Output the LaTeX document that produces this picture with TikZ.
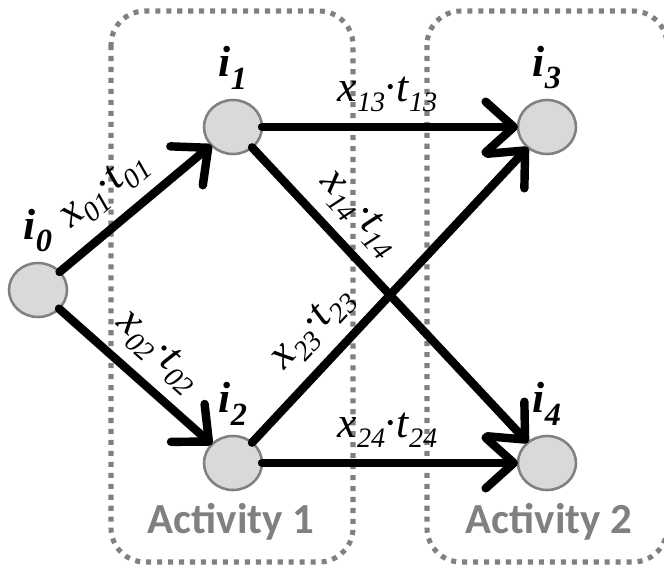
\documentclass[tikz,border=0pt]{standalone}
\usepackage{fontspec}
\setmainfont{Liberation Serif}
\newfontfamily\actfont{Carlito}
\usetikzlibrary{arrows.meta,positioning,shapes.geometric}
\definecolor{actGray}{HTML}{808080}
\definecolor{stateFill}{HTML}{D9D9D9}

% flow label x_{ij}.t_{ij} and state label i_k
\newcommand{\lowsub}[2]{\raisebox{-7pt}{\fontsize{#1}{#1}\selectfont\itshape #2}}
\newcommand{\xt}[1]{\textit{x}\lowsub{20}{#1}\kern-1.5pt·\kern-1pt\textit{t}\lowsub{20}{#1}}
\newcommand{\ik}[1]{i\raisebox{-9pt}{\fontsize{23}{23}\selectfont #1}}

\begin{document}
\begin{tikzpicture}[x=0.025cm,y=-0.025cm,
  state/.style={ellipse,draw=actGray,line width=1.8pt,fill=stateFill,
                minimum width=1.45cm,minimum height=1.35cm,inner sep=0pt,outer sep=0pt},
  statename/.style={font=\fontsize{31}{31}\selectfont\bfseries\itshape,inner sep=0pt},
  flow/.style={line width=6pt,line cap=round,
               -{Straight Barb[length=20pt,width=36pt,line cap=round,line join=round]}},
  elabel/.style={font=\fontsize{31}{31}\selectfont,sloped,above,inner sep=1pt,outer sep=10pt},
  actbox/.style={draw=actGray,line width=3.6pt,dash pattern=on 3.6pt off 4.2pt,
                 rounded corners=0.85cm},
  acttext/.style={font=\fontsize{30.5}{30.5}\selectfont\actfont\bfseries,text=actGray,anchor=base}]
\useasboundingbox (0,0) rectangle (664,568);

% activity boxes
\draw[actbox] (111,11) rectangle (353,562);
\draw[actbox] (427,11) rectangle (667,562);
\node[acttext] (act1) at (231,533) {Activity 1};
\node[acttext] (act2) at (549,533) {Activity 2};

% cut-off colon at the left edge
\node[font=\fontsize{36}{36}\selectfont\bfseries,anchor=base west,inner sep=0pt] (colon) at (-13,73) {:};

% states
\node[state] (i0) at (38,290) {};
\node[state] (i1) at (233,127) {};
\node[state] (i2) at (233,463) {};
\node[state] (i3) at (547,127) {};
\node[state] (i4) at (547,463) {};

\node[statename,above=7.5pt of i0] (n0) {\ik{0}};
\node[statename,above=7.5pt of i1] (n1) {\ik{1}};
\node[statename,above=7.5pt of i2] (n2) {\ik{2}};
\node[statename,above=7.5pt of i3] (n3) {\ik{3}};
\node[statename,above=7.5pt of i4] (n4) {\ik{4}};

% flows
\draw[flow] (i0) -- node[elabel,pos=.44] {\xt{01}} (i1);
\draw[flow] (i0) -- node[elabel,pos=.50] {\xt{02}} (i2);
\draw[flow] (i1) -- node[elabel,pos=.49] {\xt{13}} (i3);
\draw[flow] (i1) -- node[elabel,pos=.30] {\xt{14}} (i4);
\draw[flow] (i2) -- node[elabel,pos=.31] {\xt{23}} (i3);
\draw[flow] (i2) -- node[elabel,pos=.49] {\xt{24}} (i4);
\end{tikzpicture}
\end{document}
